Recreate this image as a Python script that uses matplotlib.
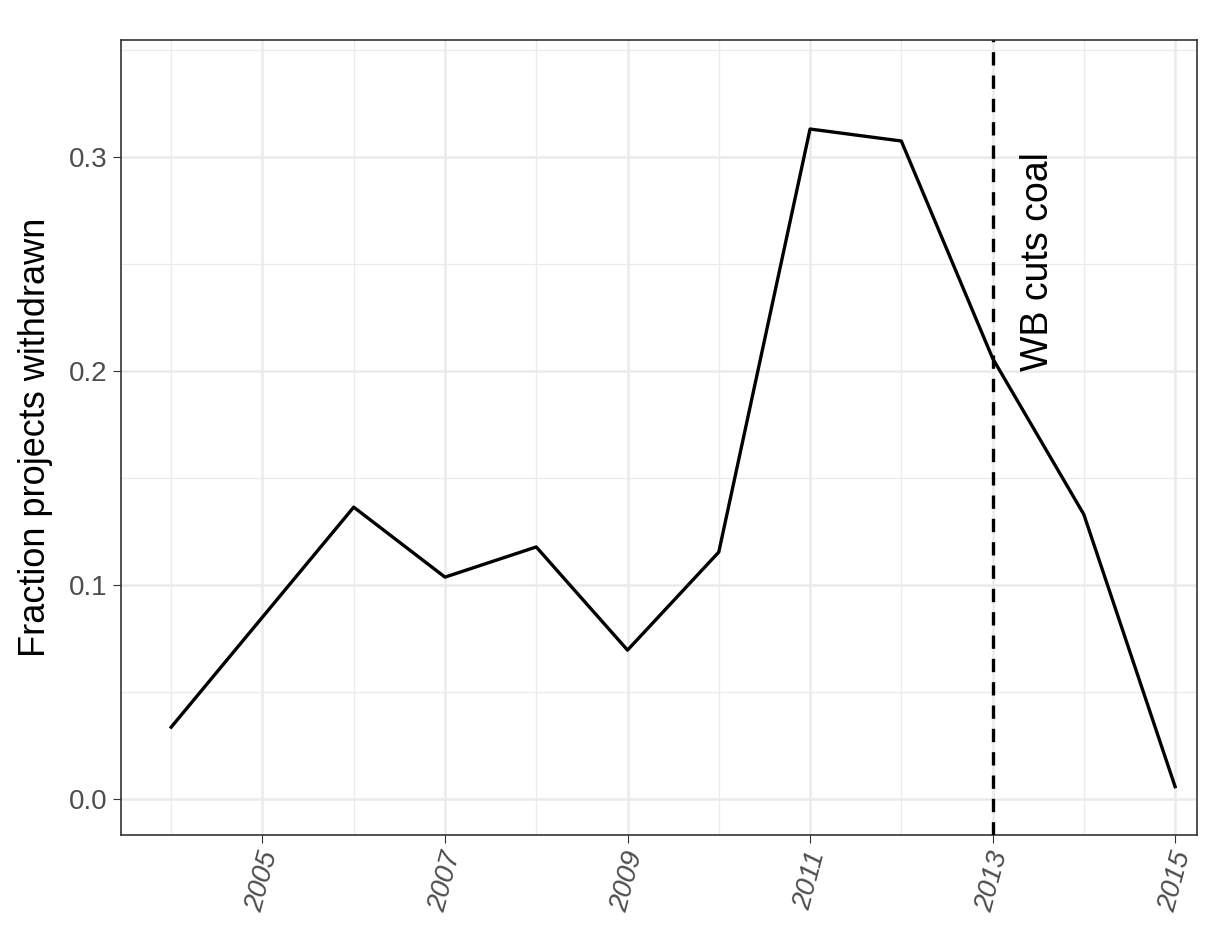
import matplotlib
matplotlib.use("Agg")
import matplotlib.pyplot as plt

years = [2004, 2005, 2006, 2007, 2008, 2009, 2010, 2011, 2012, 2013, 2014, 2015]
frac = [0.0336, 0.085, 0.1364, 0.1037, 0.1178, 0.0696, 0.1154, 0.3131, 0.3075, 0.206, 0.133, 0.0058]

plt.rcParams['font.family'] = ['Liberation Sans', 'DejaVu Sans']
fig = plt.figure(figsize=(12.14, 9.26), dpi=100)
ax = fig.add_axes([121/1214, 1 - 835/926, (1197 - 121)/1214, (835 - 40)/926])

ax.plot(years, frac, color='black', lw=2.4, zorder=3)
ax.axvline(2013, color='black', ls=(0, (4, 3)), lw=2.4, zorder=3)
ax.text(2013.5, 0.2, "WB cuts coal", rotation=90, ha='center', va='bottom', fontsize=27)

ax.set_xlim(2003.45, 2015.24)
ax.set_ylim(-0.0168, 0.3547)
ax.set_xticks([2005, 2007, 2009, 2011, 2013, 2015])
ax.set_xticks(range(2004, 2016, 2), minor=True)
ax.set_yticks([0.0, 0.1, 0.2, 0.3])
ax.set_yticklabels(["0.0", "0.1", "0.2", "0.3"])
ax.set_yticks([0.05, 0.15, 0.25, 0.35], minor=True)
ax.grid(which='major', color='#ebebeb', lw=1.8)
ax.grid(which='minor', color='#ebebeb', lw=0.9)
ax.set_axisbelow(True)
ax.tick_params(which='minor', length=0)
ax.tick_params(which='major', length=6, color='#333333', labelsize=20, labelcolor='#4d4d4d')
for lab in ax.get_xticklabels():
    lab.set_rotation(75)
    lab.set_style('italic')
for s in ax.spines.values():
    s.set_color('#333333')
    s.set_linewidth(1.2)
ax.set_ylabel("Fraction projects withdrawn", fontsize=26, labelpad=12)

fig.savefig("out.png", dpi=100)
